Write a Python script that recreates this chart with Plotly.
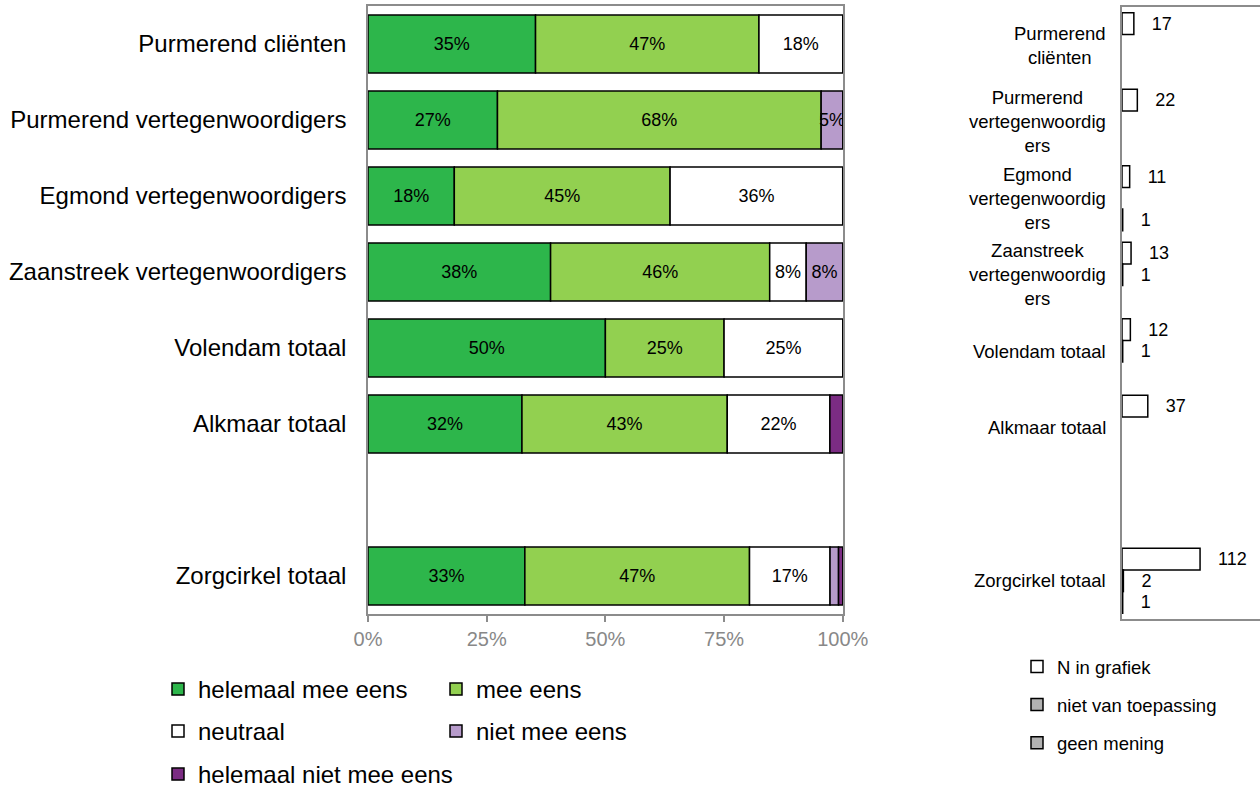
import plotly.graph_objects as go

# Survey groups (one bar per group) and the wrapped labels used in the N-panel
categories = [
    "Purmerend cliënten",
    "Purmerend vertegenwoordigers",
    "Egmond vertegenwoordigers",
    "Zaanstreek vertegenwoordigers",
    "Volendam totaal",
    "Alkmaar totaal",
    "Zorgcirkel totaal",
]
wrapped_labels = [
    "Purmerend<br>cliënten",
    "Purmerend<br>vertegenwoordig<br>ers",
    "Egmond<br>vertegenwoordig<br>ers",
    "Zaanstreek<br>vertegenwoordig<br>ers",
    "Volendam totaal",
    "Alkmaar totaal",
    "Zorgcirkel totaal",
]

# Answer distribution in percent
helemaal_mee_eens = [35.29, 27.27, 18.18, 38.46, 50.0, 32.43, 33.04]
mee_eens = [47.06, 68.18, 45.45, 46.15, 25.0, 43.24, 47.32]
neutraal = [17.65, None, 36.36, 7.69, 25.0, 21.62, 16.96]
niet_mee_eens = [None, 4.55, None, 7.69, None, None, 1.79]
helemaal_niet_mee_eens = [None, None, None, None, None, 2.70, 0.89]

# Respondent counts
n_in_grafiek = [17, 22, 11, 13, 12, 37, 112]
niet_van_toepassing = [None, None, None, 1, 1, None, 2]
geen_mening = [None, None, 1, None, None, None, 1]

x_ticks = [0, 25, 50, 75, 100]

FONT = "Liberation Sans, Arial, sans-serif"
FRAME_GRAY = "#8C8C8C"

# empty slot between the regional groups and the overall total
axis_order = categories[:6] + [" "] + categories[6:]

fig = go.Figure()

# (name, values, colour, legend row)
likert = [
    ("helemaal mee eens", helemaal_mee_eens, "#2DB64B", "legend"),
    ("mee eens", mee_eens, "#92D050", "legend"),
    ("neutraal", neutraal, "#FFFFFF", "legend3"),
    ("niet mee eens", niet_mee_eens, "#B79BCB", "legend3"),
    ("helemaal niet mee eens", helemaal_niet_mee_eens, "#7B2C83", "legend4"),
]

running = [0.0] * len(categories)
for name, vals, color, leg in likert:
    labels = [f"{int(v + 0.5)}%" if v is not None and v >= 4 else "" for v in vals]
    fig.add_trace(go.Bar(
        y=categories, x=vals, base=running[:], orientation="h", name=name,
        marker=dict(color=color, line=dict(color="black", width=1.5)),
        offsetgroup="likert", width=0.763,
        text=labels, textposition="inside", insidetextanchor="middle",
        textangle=0, constraintext="none", cliponaxis=False,
        insidetextfont=dict(family=FONT, size=18, color="black"),
        xaxis="x", yaxis="y", legend=leg,
    ))
    running = [r + (v or 0) for r, v in zip(running, vals)]

counts = [
    ("N in grafiek", n_in_grafiek, "#FFFFFF"),
    ("niet van toepassing", niet_van_toepassing, "#B2B2B2"),
    ("geen mening", geen_mening, "#B2B2B2"),
]
pad = "\u00a0\u00a0\u00a0"
for name, vals, color in counts:
    fig.add_trace(go.Bar(
        y=categories, x=vals, orientation="h", name=name,
        marker=dict(color=color, line=dict(color="black", width=1.5)),
        offsetgroup=name, legendgroup=name,
        text=[f"{pad}{v}" if v is not None else "" for v in vals],
        textposition="outside", cliponaxis=False,
        outsidetextfont=dict(family=FONT, size=18, color="black"),
        xaxis="x2", yaxis="y2", legend="legend2",
    ))

# wrapped group labels beside the count panel: right-aligned block, centred lines
for cat, lab in zip(categories, wrapped_labels):
    fig.add_annotation(
        x=1108 / 1260, xref="paper", y=cat, yref="y2", text=lab,
        showarrow=False, align="center", xanchor="right", yanchor="middle",
        font=dict(family=FONT, size=18.5, color="black"),
    )


def likert_legend(y_top, entrywidth=233):
    leg = dict(
        orientation="h", x=158 / 1260, y=1 - y_top / 789,
        xanchor="left", yanchor="top",
        font=dict(family=FONT, size=24, color="black"),
        traceorder="normal", bgcolor="rgba(0,0,0,0)",
    )
    if entrywidth:
        leg.update(entrywidth=entrywidth, entrywidthmode="pixels")
    return leg


fig.update_layout(
    width=1260, height=789,
    margin=dict(l=0, r=0, t=0, b=0, autoexpand=False),
    paper_bgcolor="white", plot_bgcolor="white",
    barmode="group", bargap=0.15, bargroupgap=0,
    font=dict(family=FONT, color="black"),
    showlegend=True,
    xaxis=dict(
        domain=[368 / 1260, 843 / 1260], range=[0, 100.05],
        tickvals=x_ticks, ticktext=[f"{t}%" for t in x_ticks],
        showgrid=False, zeroline=False, automargin=False,
        showline=True, mirror=True, linecolor=FRAME_GRAY, linewidth=1.5,
        ticks="outside", ticklen=6, tickcolor=FRAME_GRAY, tickwidth=1.5,
        tickfont=dict(family=FONT, size=20, color="#888888"),
        anchor="y",
    ),
    yaxis=dict(
        domain=[1 - 614 / 789, 1 - 6 / 789],
        type="category", categoryorder="array", categoryarray=axis_order,
        autorange="reversed", automargin=False,
        showgrid=False, zeroline=False,
        showline=True, mirror=True, linecolor=FRAME_GRAY, linewidth=1.5,
        ticks="", ticklabelstandoff=15,
        tickfont=dict(family=FONT, size=24, color="black"),
        anchor="x",
    ),
    xaxis2=dict(
        domain=[1122 / 1260, 1.0], range=[0, 198],
        showgrid=False, zeroline=False, showticklabels=False, ticks="",
        showline=True, mirror=True, linecolor=FRAME_GRAY, linewidth=1.5,
        automargin=False, anchor="y2",
    ),
    yaxis2=dict(
        domain=[1 - 619 / 789, 1 - 7 / 789],
        type="category", categoryorder="array", categoryarray=axis_order,
        autorange="reversed", automargin=False,
        showgrid=False, zeroline=False, showticklabels=False, ticks="",
        showline=True, mirror=True, linecolor=FRAME_GRAY, linewidth=1.5,
        anchor="x2",
    ),
    legend=likert_legend(667),
    legend3=likert_legend(709),
    legend4=likert_legend(752, entrywidth=None),
    legend2=dict(
        orientation="v", x=1017 / 1260, y=1 - 648 / 789,
        xanchor="left", yanchor="top",
        font=dict(family=FONT, size=18.5, color="black"),
        traceorder="grouped", tracegroupgap=11, bgcolor="rgba(0,0,0,0)",
    ),
)

fig.write_html("out.html")
